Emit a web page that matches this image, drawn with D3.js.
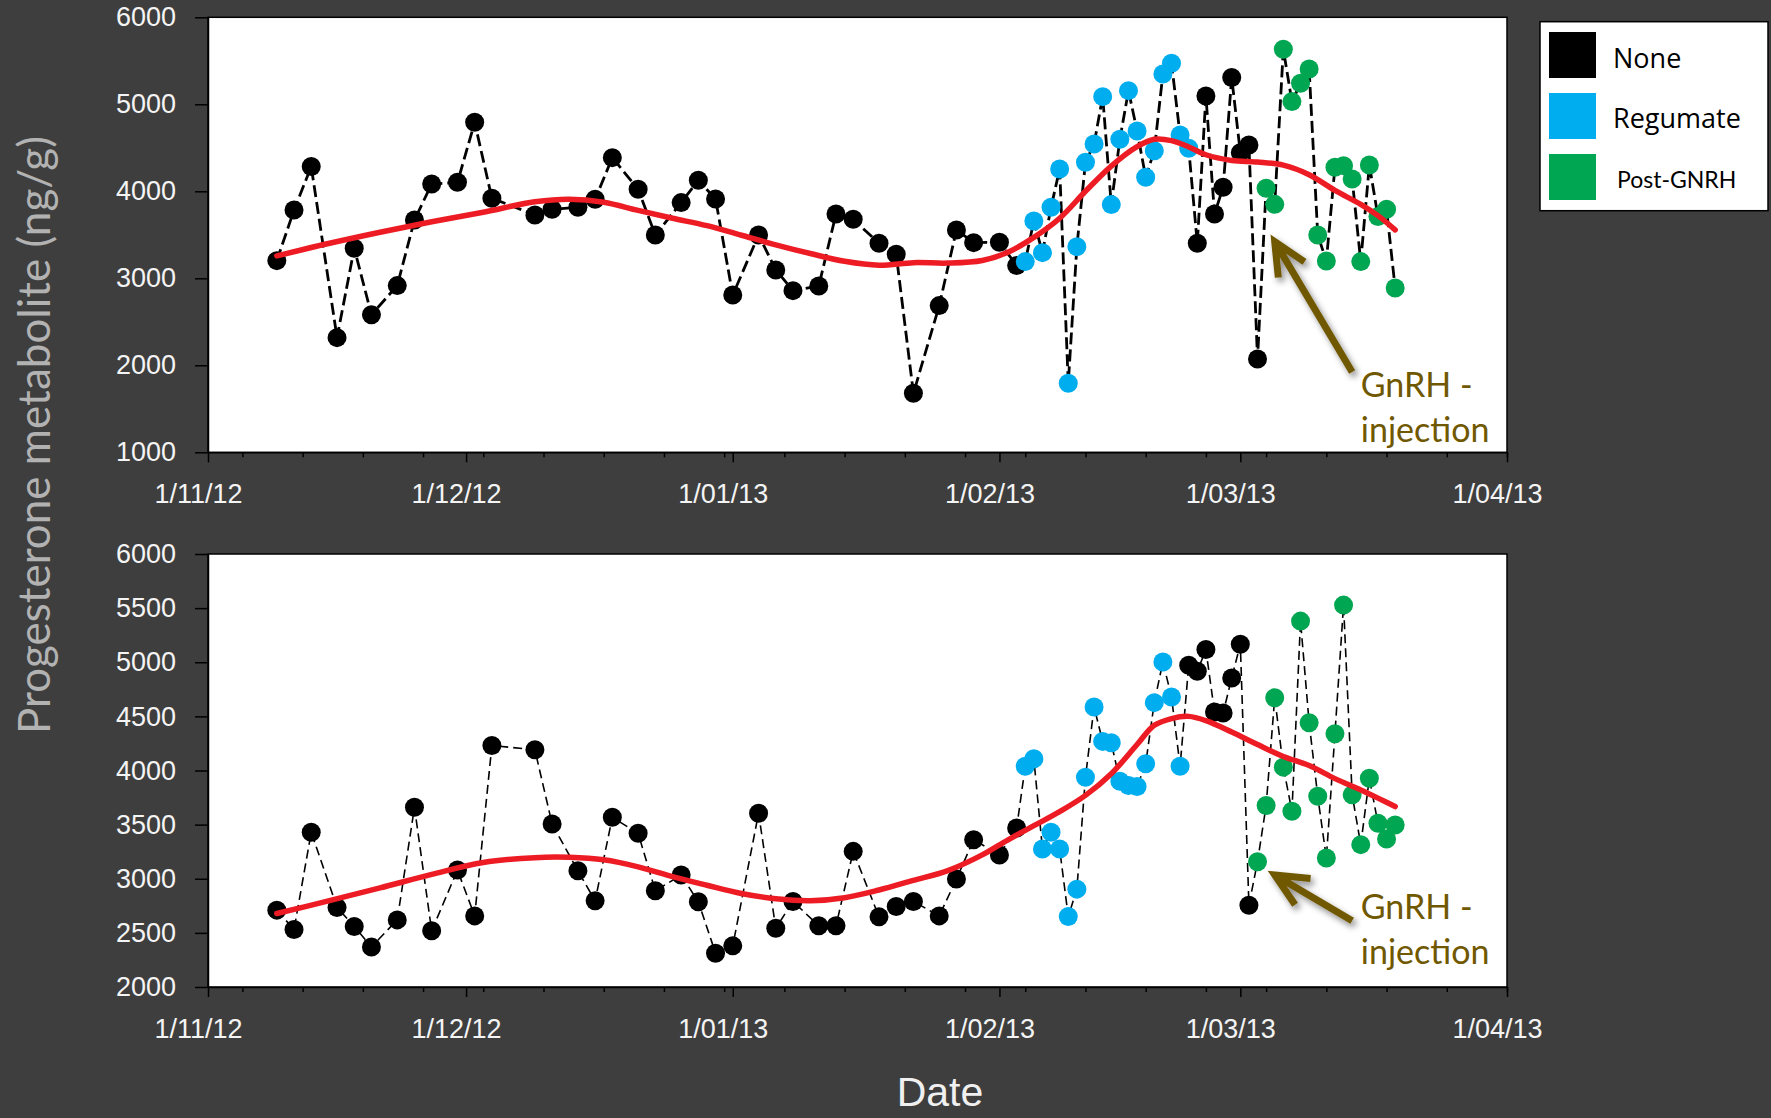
<!DOCTYPE html>
<html><head><meta charset="utf-8">
<script src="https://cdn.jsdelivr.net/npm/d3@7"></script>
<style>html,body{margin:0;padding:0;background:#3e3e3e;} svg{display:block}</style>
</head><body><svg id="chart" width="1771" height="1118"></svg>
<script>
// ---------- DATA ----------
const categories = ["None", "Regumate", "Post-GNRH"];
const categoryColors = ["#000000", "#00aeef", "#00a651"];

const sampleDates = [
 "2012-11-09","2012-11-11","2012-11-13","2012-11-16","2012-11-18","2012-11-20","2012-11-23","2012-11-25","2012-11-27","2012-11-30",
 "2012-12-02","2012-12-04","2012-12-09","2012-12-11","2012-12-14","2012-12-16","2012-12-18","2012-12-21","2012-12-23","2012-12-26",
 "2012-12-28","2012-12-30","2013-01-01","2013-01-04","2013-01-06","2013-01-08","2013-01-11","2013-01-13","2013-01-15","2013-01-18",
 "2013-01-20","2013-01-22","2013-01-25","2013-01-27","2013-01-29","2013-02-01","2013-02-03",
 "2013-02-04","2013-02-05","2013-02-06","2013-02-07","2013-02-08","2013-02-09","2013-02-10","2013-02-11","2013-02-12","2013-02-13",
 "2013-02-14","2013-02-15","2013-02-16","2013-02-17","2013-02-18","2013-02-19","2013-02-20","2013-02-21","2013-02-22","2013-02-23",
 "2013-02-24","2013-02-25","2013-02-26","2013-02-27","2013-02-28",
 "2013-03-01","2013-03-02","2013-03-03","2013-03-04","2013-03-05","2013-03-06","2013-03-07","2013-03-08","2013-03-09","2013-03-10",
 "2013-03-11","2013-03-12","2013-03-13","2013-03-14","2013-03-15","2013-03-16","2013-03-17","2013-03-18","2013-03-19"
];

// top panel
const topValues = [
 3203,3785,4284,2318,3345,2582,2916,3670,4084,4103,4793,3920,3728,3793,3816,3908,4387,4023,3498,3870,
 4126,3912,2808,3498,3096,2858,2912,3739,3678,3402,3276,1678,2686,3556,3410,3414,3146,
 3192,3659,3295,3816,4257,1793,3364,4333,4544,5088,3847,4598,5157,4693,4161,4467,5349,5471,4648,4494,
 3402,5096,3739,4046,5307,4444,4533,2073,
 4034,3850,5632,5031,5241,5406,3498,3199,4276,4295,4142,3192,4303,3709,3793,2889
];
const topGroups = [
 0,0,0,0,0,0,0,0,0,0,0,0,0,0,0,0,0,0,0,0,0,0,0,0,0,0,0,0,0,0,0,0,0,0,0,0,0,
 1,1,1,1,1,1,1,1,1,1,1,1,1,1,1,1,1,1,1,1,
 0,0,0,0,0,0,0,0,
 2,2,2,2,2,2,2,2,2,2,2,2,2,2,2,2
];
// bottom panel
const bottomValues = [
 2710,2531,3429,2735,2559,2370,2620,3660,2519,3080,2657,4231,4191,3506,3074,2796,3568,3420,2889,3034,
 2787,2312,2380,3605,2543,2790,2565,2565,3253,2648,2744,2790,2657,2997,3361,3219,3469,
 4040,4108,3275,3429,3275,2651,2904,3938,4586,4269,4256,3901,3861,3852,4062,4627,5003,4679,4040,
 4972,4917,5117,4540,4531,4855,5167,2756,
 3157,3676,4672,4031,3623,5380,4441,3762,3191,4340,5528,3775,3315,3929,3512,3367,3497
];
const bottomGroups = [
 0,0,0,0,0,0,0,0,0,0,0,0,0,0,0,0,0,0,0,0,0,0,0,0,0,0,0,0,0,0,0,0,0,0,0,0,0,
 1,1,1,1,1,1,1,1,1,1,1,1,1,1,1,1,1,1,1,
 0,0,0,0,0,0,0,0,
 2,2,2,2,2,2,2,2,2,2,2,2,2,2,2,2,2
];

// smoothed trend (red line)
const trendDates = [
 "2012-11-09","2012-11-15","2012-11-21","2012-11-27","2012-12-03","2012-12-09","2012-12-13","2012-12-17","2012-12-21","2012-12-25",
 "2012-12-29","2013-01-02","2013-01-06","2013-01-10","2013-01-14","2013-01-18","2013-01-22","2013-01-26","2013-01-30","2013-02-02",
 "2013-02-05","2013-02-08","2013-02-11","2013-02-14","2013-02-17","2013-02-19","2013-02-21","2013-02-23","2013-02-25","2013-02-28",
 "2013-03-03","2013-03-06","2013-03-09","2013-03-12","2013-03-15","2013-03-17","2013-03-19"
];
const topTrend = [
 3257,3400,3530,3650,3760,3880,3910,3875,3780,3690,3605,3495,3385,3285,3195,3150,3180,3175,3205,3300,
 3470,3690,4000,4290,4513,4598,4582,4510,4420,4355,4337,4300,4190,4010,3850,3720,3556
];
const bottomTrend = [
 2679,2795,2915,3040,3150,3195,3198,3175,3110,3020,2940,2864,2815,2797,2825,2896,2985,3075,3220,3360,
 3490,3620,3770,3970,4240,4417,4480,4500,4460,4355,4240,4130,4046,3925,3820,3745,3667
];

const topYTicks = [1000,2000,3000,4000,5000,6000];
const bottomYTicks = [2000,2500,3000,3500,4000,4500,5000,5500,6000];
const xDomain = ["2012-11-01","2013-04-01"];
const annotationLines = ["GnRH -", "injection"];
// arrow [tail, tip] and text anchor in data units, per panel
const topArrow = {tail:["2013-03-14",1923], tip:["2013-03-05",3421], text:["2013-03-15",1636,1118]};
const bottomArrow = {tail:["2013-03-14",2611], tip:["2013-03-05",3034], text:["2013-03-15",2630,2216]};

// ---------- DRAW ----------
const parse = d3.timeParse("%Y-%m-%d");
const W = 1771, H = 1118;
const L = 208, R = 1507;
const svg = d3.select("#chart");
svg.append("rect").attr("width", W).attr("height", H).attr("fill", "#3e3e3e");

const defs = svg.append("defs");
const f = defs.append("filter").attr("id","shadow").attr("x","-30%").attr("y","-30%").attr("width","160%").attr("height","160%");
f.append("feDropShadow").attr("dx",3).attr("dy",4).attr("stdDeviation",3).attr("flood-color","#000").attr("flood-opacity",0.45);

const x = d3.scaleTime().domain(xDomain.map(parse)).range([L, R]);
const tickFont = "'Liberation Sans', Arial, Helvetica, sans-serif";

function drawPanel(p) {
  const y = d3.scaleLinear().domain([p.yTicks[0], p.yTicks[p.yTicks.length-1]]).range([p.bottom, p.top]);
  const g = svg.append("g");
  g.append("rect").attr("x", L).attr("y", p.top).attr("width", R - L).attr("height", p.bottom - p.top)
    .attr("fill", "#fff").attr("stroke", "#000").attr("stroke-width", 1.5);

  // x axis minor (weekly) ticks
  g.append("g").attr("transform", `translate(0,${p.bottom})`)
    .call(d3.axisBottom(x).ticks(d3.timeMonday.every(1)).tickSize(5).tickSizeOuter(0).tickFormat(""))
    .call(a => a.select(".domain").attr("stroke", "#000").attr("stroke-width", 1.5))
    .call(a => a.selectAll(".tick line").attr("stroke", "#000").attr("stroke-width", 1.5));
  // x axis major (monthly) ticks with labels
  g.append("g").attr("transform", `translate(0,${p.bottom})`)
    .call(d3.axisBottom(x).ticks(d3.timeMonth.every(1)).tickSize(10).tickSizeOuter(0).tickFormat(d3.timeFormat("%-d/%m/%y")))
    .call(a => a.select(".domain").remove())
    .call(a => a.selectAll(".tick line").attr("stroke", "#000").attr("stroke-width", 1.5))
    .call(a => a.selectAll(".tick text").attr("y", 51).attr("dy", null).attr("dx", -10)
      .attr("fill", "#f4f4f4").attr("font-family", tickFont).attr("font-size", 27));
  // y axis
  g.append("g").attr("transform", `translate(${L},0)`)
    .call(d3.axisLeft(y).tickValues(p.yTicks).tickSize(13).tickSizeOuter(0).tickPadding(19).tickFormat(d3.format("d")))
    .call(a => a.select(".domain").attr("stroke", "#000").attr("stroke-width", 1.5))
    .call(a => a.selectAll(".tick line").attr("stroke", "#000").attr("stroke-width", 1.5))
    .call(a => a.selectAll(".tick text").attr("fill", "#f4f4f4").attr("font-family", tickFont).attr("font-size", 27));

  const pts = sampleDates.map((d, i) => ({date: parse(d), value: p.values[i], cat: p.groups[i]}));
  // dashed connecting line
  g.append("path").datum(pts)
    .attr("d", d3.line().x(d => x(d.date)).y(d => y(d.value)))
    .attr("fill", "none").attr("stroke", "#000").attr("stroke-width", p.dashWidth)
    .attr("stroke-dasharray", p.dash);
  // points
  g.selectAll("circle.pt").data(pts).join("circle").attr("class", "pt")
    .attr("cx", d => x(d.date)).attr("cy", d => y(d.value)).attr("r", 9.5)
    .attr("fill", d => categoryColors[d.cat]);
  // trend
  const tr = trendDates.map((d, i) => ({date: parse(d), value: p.trend[i]}));
  g.append("path").datum(tr)
    .attr("d", d3.line().curve(d3.curveCatmullRom.alpha(0.5)).x(d => x(d.date)).y(d => y(d.value)))
    .attr("fill", "none").attr("stroke", "#ed1c24").attr("stroke-width", 5.5).attr("stroke-linecap", "round");

  // annotation arrow
  const a = p.arrow;
  const tail = [x(parse(a.tail[0])), y(a.tail[1])];
  const tip = [x(parse(a.tip[0])), y(a.tip[1])];
  const ang = Math.atan2(tail[1] - tip[1], tail[0] - tip[0]);
  const bl = 36, ba = 25 * Math.PI / 180;
  const b1 = [tip[0] + bl * Math.cos(ang + ba), tip[1] + bl * Math.sin(ang + ba)];
  const b2 = [tip[0] + bl * Math.cos(ang - ba), tip[1] + bl * Math.sin(ang - ba)];
  const ac = "#705800";
  g.append("path")
    .attr("d", `M${tail[0]},${tail[1]}L${tip[0]},${tip[1]}M${b1[0]},${b1[1]}L${tip[0]},${tip[1]}L${b2[0]},${b2[1]}`)
    .attr("fill", "none").attr("stroke", ac).attr("stroke-width", 7).attr("stroke-linejoin", "miter")
    .attr("filter", "url(#shadow)");
  const tx = x(parse(a.text[0]));
  annotationLines.forEach((t, i) => {
    g.append("text").attr("x", tx).attr("y", y(a.text[1 + i])).text(t)
      .attr("fill", ac).attr("font-family", "Lato, 'Open Sans', sans-serif").attr("font-size", 34);
  });
}

drawPanel({top: 17.3, bottom: 452.3, yTicks: topYTicks, values: topValues, groups: topGroups,
  trend: topTrend, dash: "12,5", dashWidth: 2.8, arrow: topArrow});
drawPanel({top: 554, bottom: 987, yTicks: bottomYTicks, values: bottomValues, groups: bottomGroups,
  trend: bottomTrend, dash: "9,5", dashWidth: 1.6, arrow: bottomArrow});

// y axis title
svg.append("text").attr("transform", "translate(50,435) rotate(-90)").attr("text-anchor", "middle")
  .attr("fill", "#b2b2b2").attr("font-family", "Lato, 'Open Sans', sans-serif").attr("font-size", 44)
  .text("Progesterone metabolite (ng/g)");
// x axis title
svg.append("text").attr("x", 940).attr("y", 1106).attr("text-anchor", "middle")
  .attr("fill", "#f0f0f0").attr("font-family", tickFont).attr("font-size", 41).text("Date");

// legend
const lg = svg.append("g");
lg.append("rect").attr("x", 1540).attr("y", 21.7).attr("width", 228).attr("height", 189)
  .attr("fill", "#fff").attr("stroke", "#000").attr("stroke-width", 1.5);
const legendFonts = [["'Open Sans', sans-serif", 27, 1613], ["'Open Sans', sans-serif", 27, 1613], ["Lato, sans-serif", 23, 1617]];
categories.forEach((c, i) => {
  lg.append("rect").attr("x", 1549).attr("y", 32 + i * 61).attr("width", 47).attr("height", 46)
    .attr("fill", categoryColors[i]);
  lg.append("text").attr("x", legendFonts[i][2]).attr("y", 68 + i * 60).text(c)
    .attr("fill", "#000").attr("font-family", legendFonts[i][0]).attr("font-size", legendFonts[i][1]);
});
</script>
</body></html>
